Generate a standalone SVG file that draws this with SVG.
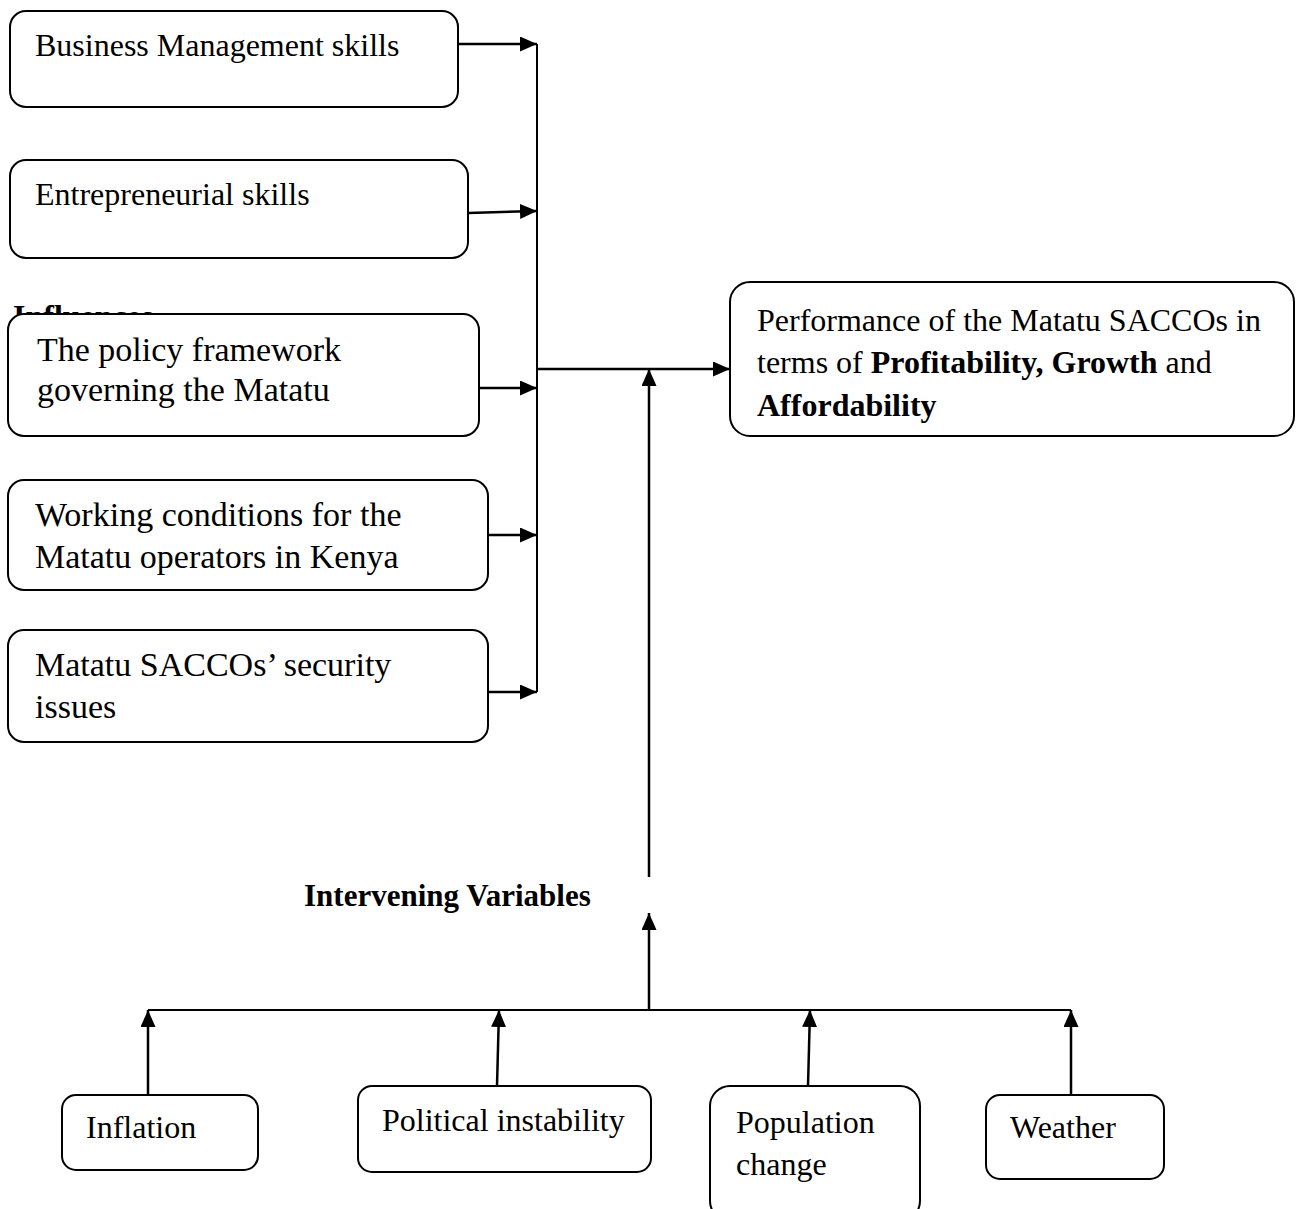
<svg xmlns="http://www.w3.org/2000/svg" width="1298" height="1209" viewBox="0 0 1298 1209">
<style>
.box{fill:#fff;stroke:#000;stroke-width:2}
.t{font-family:"Liberation Serif","Times New Roman",serif;font-size:32px;fill:#000}
.t34{font-family:"Liberation Serif","Times New Roman",serif;font-size:34px;fill:#000}
.b{font-weight:bold}
.c{fill:none;stroke:#000;stroke-width:2.5}
.c2{fill:none;stroke:#000;stroke-width:2}
</style>
<defs>
<marker id="ah" viewBox="0 0 17 15" markerWidth="17" markerHeight="15" refX="17" refY="7.5" orient="auto" markerUnits="userSpaceOnUse">
<path d="M0,0 L17,7.5 L0,15 z" fill="#000"/>
</marker>
</defs>
<rect width="1298" height="1209" fill="#fff"/>
<text id="influences-label" class="t b" x="13" y="327">Influences</text>
<g id="n-business">
<rect class="box" x="10" y="11" width="448" height="96" rx="16"/>
<text class="t" x="35" y="56">Business Management skills</text>
</g>
<g id="n-entre">
<rect class="box" x="10" y="160" width="458" height="98" rx="16"/>
<text class="t" x="35" y="205">Entrepreneurial skills</text>
</g>
<g id="n-policy">
<rect class="box" x="8" y="314" width="471" height="122" rx="16"/>
<text class="t34" x="37" y="361">The policy framework</text>
<text class="t34" x="37" y="401">governing the Matatu</text>
</g>
<g id="n-working">
<rect class="box" x="8" y="480" width="480" height="110" rx="16"/>
<text class="t34" x="35" y="526">Working conditions for the</text>
<text class="t34" x="35" y="568">Matatu operators in Kenya</text>
</g>
<g id="n-security">
<rect class="box" x="8" y="630" width="480" height="112" rx="16"/>
<text class="t34" x="35" y="676">Matatu SACCOs’ security</text>
<text class="t34" x="35" y="718">issues</text>
</g>
<g id="n-performance">
<rect class="box" x="730" y="282" width="564" height="154" rx="20"/>
<text class="t" x="757" y="331">Performance of the Matatu SACCOs in</text>
<text class="t" x="757" y="373">terms of <tspan class="b">Profitability, Growth</tspan> and</text>
<text class="t b" x="757" y="416">Affordability</text>
</g>
<text id="intervening-label" class="t b" x="304" y="906" style="font-size:31px">Intervening Variables</text>
<g id="n-inflation">
<rect class="box" x="62" y="1095" width="196" height="75" rx="14"/>
<text class="t" x="86" y="1138">Inflation</text>
</g>
<g id="n-political">
<rect class="box" x="358" y="1086" width="293" height="86" rx="14"/>
<text class="t" x="382" y="1131">Political instability</text>
</g>
<g id="n-population">
<rect class="box" x="710" y="1086" width="210" height="135" rx="20"/>
<text class="t" x="736" y="1133">Population</text>
<text class="t" x="736" y="1175">change</text>
</g>
<g id="n-weather">
<rect class="box" x="986" y="1095" width="178" height="84" rx="14"/>
<text class="t" x="1010" y="1138">Weather</text>
</g>
<g id="connectors">
<line class="c2" x1="537" y1="44" x2="537" y2="692"/>
<line class="c" x1="458" y1="44" x2="537" y2="44" marker-end="url(#ah)"/>
<line class="c" x1="468" y1="213" x2="537" y2="211" marker-end="url(#ah)"/>
<line class="c" x1="479" y1="388" x2="537" y2="388" marker-end="url(#ah)"/>
<line class="c" x1="488" y1="535" x2="537" y2="535" marker-end="url(#ah)"/>
<line class="c" x1="488" y1="692" x2="537" y2="692" marker-end="url(#ah)"/>
<line class="c" x1="537" y1="369" x2="730" y2="369" marker-end="url(#ah)"/>
<line class="c" x1="649" y1="877" x2="649" y2="369" marker-end="url(#ah)"/>
<line class="c" x1="649" y1="1010" x2="649" y2="913" marker-end="url(#ah)"/>
<line class="c2" x1="148" y1="1010" x2="1071" y2="1010"/>
<line class="c" x1="148" y1="1095" x2="148" y2="1010" marker-end="url(#ah)"/>
<line class="c" x1="497" y1="1086" x2="499" y2="1010" marker-end="url(#ah)"/>
<line class="c" x1="808" y1="1086" x2="810" y2="1010" marker-end="url(#ah)"/>
<line class="c" x1="1071" y1="1095" x2="1071" y2="1010" marker-end="url(#ah)"/>
</g>
</svg>
